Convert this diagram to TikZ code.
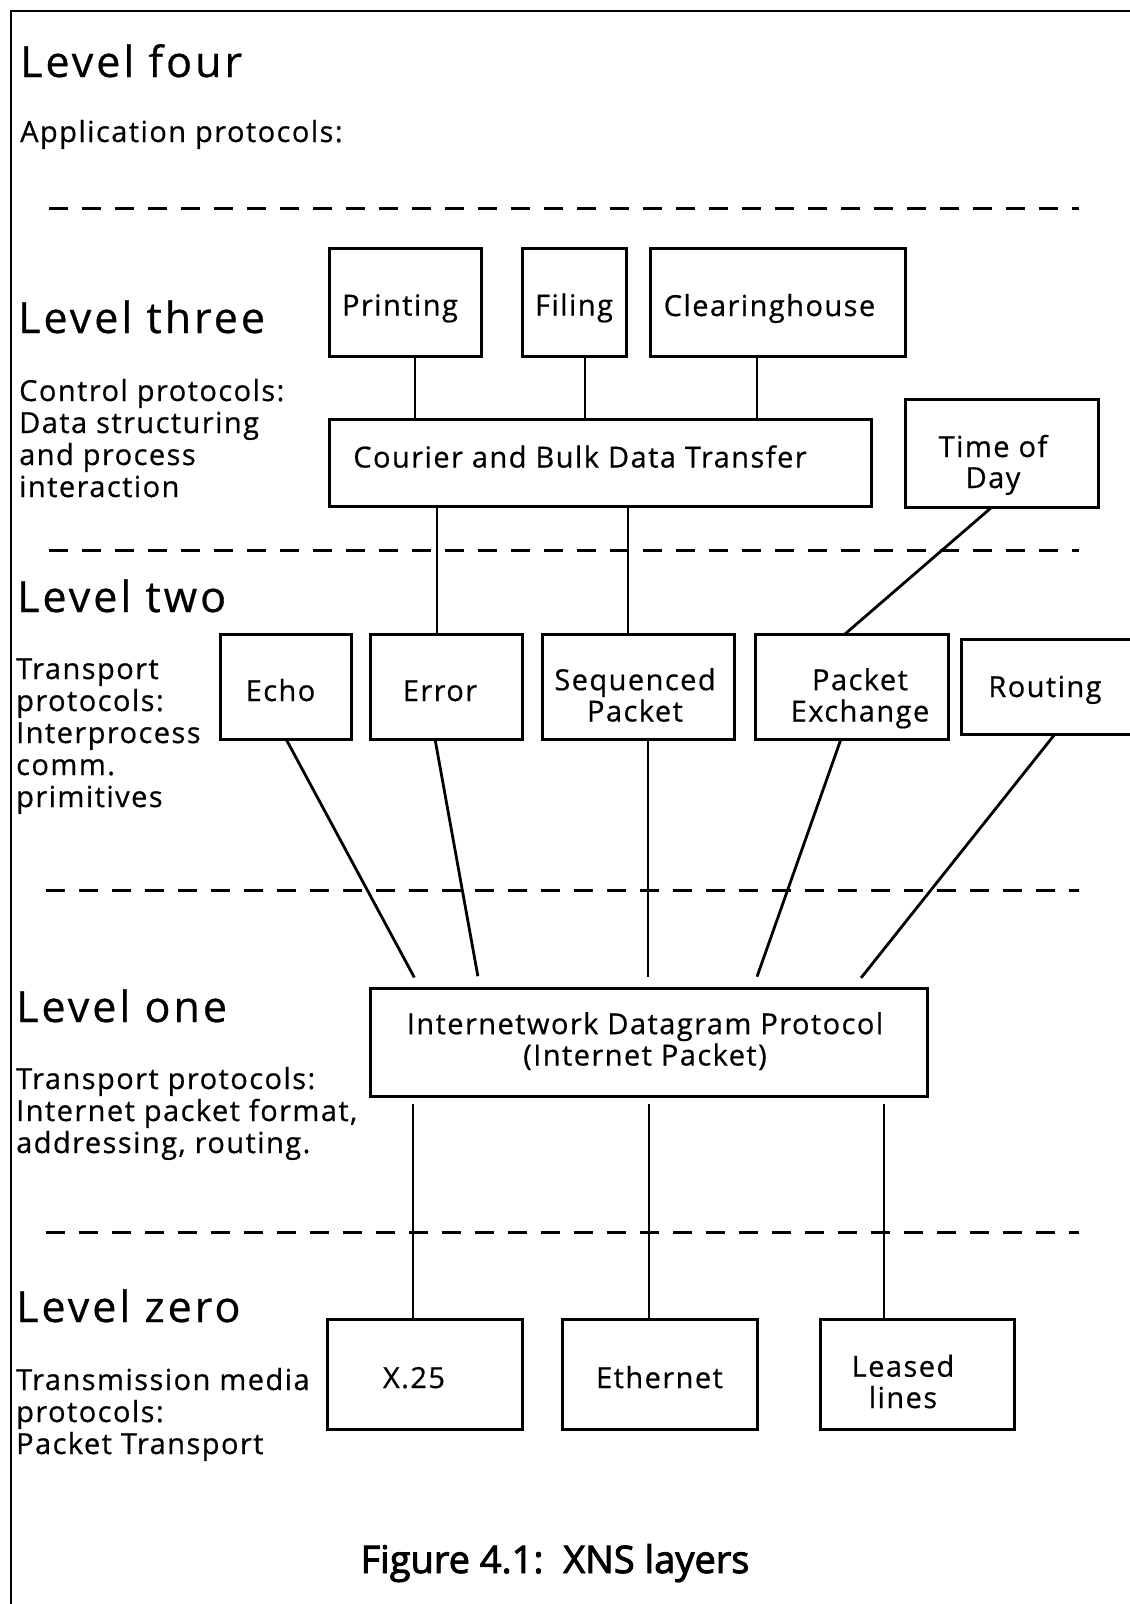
\documentclass[tikz,border=0pt]{standalone}
\usepackage{fontspec}
\setmainfont{Open Sans}
\newcommand\headfont{\fontsize{43}{46}\selectfont\addfontfeatures{LetterSpace=7,FakeBold=0.6}}
\newcommand\descfont{\fontsize{29}{32}\selectfont\addfontfeatures{LetterSpace=5,FakeBold=0.6}}
\newcommand\boxfont{\fontsize{29}{31}\selectfont\addfontfeatures{LetterSpace=5,FakeBold=0.6}}
\newcommand\capfont{\fontsize{38}{42}\selectfont\addfontfeatures{FakeBold=2.4}}
% box caption: horizontal offset, vertical raise, centred lines
\newcommand\lbl[3]{\raisebox{#2}[0pt][0pt]{\hspace*{#1}\begin{tabular}[b]{@{}c@{}}#3\end{tabular}\hspace*{-#1}}}
\begin{document}
\begin{tikzpicture}[x=1pt,y=-1pt,
  box/.style={draw, line width=3pt, inner sep=0pt, outer sep=0pt, font=\boxfont},
  link/.style={line width=2.8pt},
  sep/.style={line width=3pt, dash pattern=on 19pt off 14pt},
  head/.style={anchor=base west, inner sep=0pt, font=\headfont},
  desc/.style={anchor=base west, inner sep=0pt, align=left, font=\descfont},
  frame/.style={line width=2.2pt}]
\useasboundingbox (0,0) rectangle (1130,1604);
\clip (0,0) rectangle (1130,1604);

% page frame (top and left rules)
\coordinate (fTL) at (11,11);
\coordinate (fTR) at (1135,11);
\coordinate (fBL) at (11,1610);
\draw[frame] (fTR) -- (fTL) -- (fBL);

% level separators
\coordinate (s1a) at (49,208);   \coordinate (s1b) at (1079,208);
\coordinate (s2a) at (49,550);   \coordinate (s2b) at (1079,550);
\coordinate (s3a) at (46,890);   \coordinate (s3b) at (1079,890);
\coordinate (s4a) at (46,1232);  \coordinate (s4b) at (1079,1232);
\draw[sep] (s1a) -- (s1b);
\draw[sep] (s2a) -- (s2b);
\draw[sep] (s3a) -- (s3b);
\draw[sep] (s4a) -- (s4b);

% level headings and descriptions (descriptions placed by their last baseline)
\node[head] (l4) at (20,77) {Level four};
\node[desc] (d4) at (20,142) {Application protocols:};
\node[head] (l3) at (18,333) {Level three};
\node[desc] (d3) at (19,497) {Control protocols:\\Data structuring\\and process\\interaction};
\node[head] (l2) at (17,612) {Level two};
\node[desc] (d2) at (16,807) {Transport\\protocols:\\Interprocess\\comm.\\primitives};
\node[head] (l1) at (16,1022) {Level one};
\node[desc] (d1) at (16,1153) {Transport protocols:\\Internet packet format,\\addressing, routing.};
\node[head] (l0) at (16,1322) {Level zero};
\node[desc] (d0) at (16,1454) {Transmission media\\protocols:\\Packet Transport};

% level three
\node[box, minimum width=152pt, minimum height=108pt] (print) at (405,302) {\lbl{-5pt}{-13.5pt}{Printing}};
\node[box, minimum width=104pt, minimum height=108pt] (filing) at (574,302) {\lbl{0pt}{-13.5pt}{Filing}};
\node[box, minimum width=255pt, minimum height=108pt] (clear) at (777.5,302) {\lbl{-8pt}{-14pt}{Clearinghouse}};
\node[box, minimum width=542pt, minimum height=87pt] (courier) at (600,462.5) {\lbl{-20pt}{-5pt}{Courier and Bulk Data Transfer}};
\node[box, minimum width=193pt, minimum height=108pt] (tod) at (1001.5,453) {\lbl{-8.5pt}{-35pt}{Time of\\Day}};

% level two
\node[box, minimum width=131pt, minimum height=105pt] (echo) at (285.5,686.5) {\lbl{-5pt}{-14.5pt}{Echo}};
\node[box, minimum width=152pt, minimum height=105pt] (error) at (446,686.5) {\lbl{-6pt}{-14.5pt}{Error}};
\node[box, minimum width=192pt, minimum height=105pt] (seq) at (638,686.5) {\lbl{-3pt}{-35pt}{Sequenced\\Packet}};
\node[box, minimum width=193pt, minimum height=105pt] (pex) at (851.5,686.5) {\lbl{8.5pt}{-35pt}{Packet\\Exchange}};
\node[box, minimum width=179pt, minimum height=95pt] (rout) at (1050.5,686.5) {\lbl{-5.5pt}{-10.5pt}{Routing}};

% level one
\node[box, minimum width=557pt, minimum height=108pt] (idp) at (648.5,1042) {\lbl{-3.5pt}{-23.5pt}{Internetwork Datagram Protocol\\(Internet Packet)}};

% level zero
\node[box, minimum width=195pt, minimum height=110pt] (x25) at (424.5,1374) {\lbl{-10.5pt}{-14pt}{X.25}};
\node[box, minimum width=195pt, minimum height=110pt] (eth) at (659.5,1374) {\lbl{0pt}{-14pt}{Ethernet}};
\node[box, minimum width=194pt, minimum height=110pt] (leased) at (917,1374) {\lbl{-14pt}{-34pt}{Leased\\lines}};

% connectors: level three
\draw[link] ([xshift=10pt]print.south) -- ([xshift=10pt]print.south |- courier.north);
\draw[link] ([xshift=11pt]filing.south) -- ([xshift=11pt]filing.south |- courier.north);
\draw[link] ([xshift=-20.5pt]clear.south) -- ([xshift=-20.5pt]clear.south |- courier.north);

% connectors: level three to level two
\draw[link] ([xshift=-9pt]error.north |- courier.south) -- ([xshift=-9pt]error.north);
\draw[link] ([xshift=-10pt]seq.north |- courier.south) -- ([xshift=-10pt]seq.north);
\draw[link] ([xshift=-9.5pt]tod.south) -- ([xshift=-6.5pt]pex.north);

% connectors: level two to level one
\draw[link, shorten >=12pt] ([xshift=0.5pt]echo.south) -- ([xshift=-228.5pt]idp.north);
\draw[link, shorten >=12pt] ([xshift=-11pt]error.south) -- ([xshift=-168.5pt]idp.north);
\draw[link, shorten >=11pt] ([xshift=10pt]seq.south) -- ([xshift=-0.5pt]idp.north);
\draw[link, shorten >=12pt] ([xshift=-10.5pt]pex.south) -- ([xshift=104.5pt]idp.north);
\draw[link, shorten >=13pt] ([xshift=4.5pt]rout.south) -- ([xshift=204.5pt]idp.north);

% connectors: level one to level zero
\draw[link, shorten <=8pt] ([xshift=-235.5pt]idp.south) -- ([xshift=-11.5pt]x25.north);
\draw[link, shorten <=8pt] ([xshift=0.5pt]idp.south) -- ([xshift=-10.5pt]eth.north);
\draw[link, shorten <=8pt] ([xshift=235.5pt]idp.south) -- ([xshift=-33pt]leased.north);

% caption
\node[anchor=base, inner sep=0pt, font=\capfont] (cap) at (555,1573) {Figure 4.1:\ \ XNS layers};
\end{tikzpicture}
\end{document}
